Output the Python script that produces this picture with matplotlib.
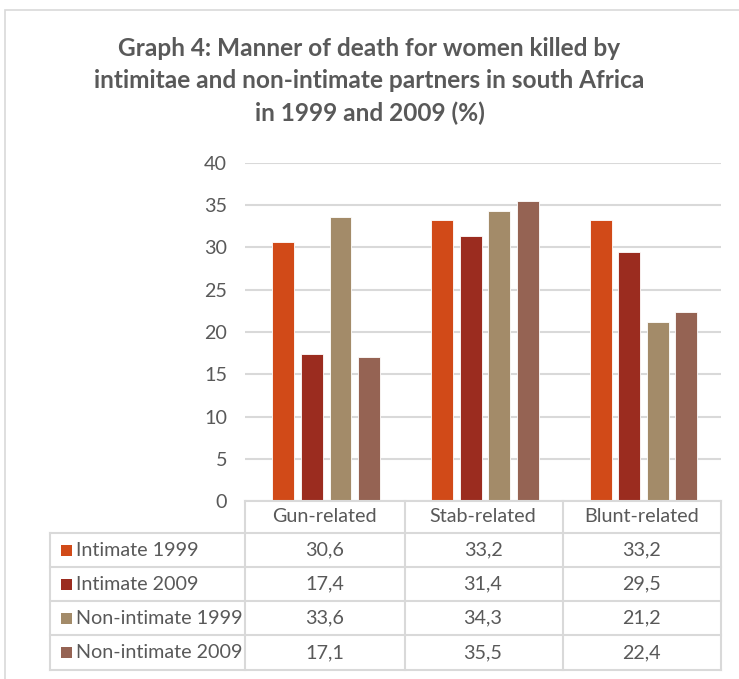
import matplotlib.pyplot as plt
from matplotlib.patches import Rectangle
from matplotlib.transforms import blended_transform_factory
import numpy as np

categories = ['Gun-related', 'Stab-related', 'Blunt-related']
series_names = ['Intimate 1999', 'Intimate 2009', 'Non-intimate 1999', 'Non-intimate 2009']
intimate_1999 = [30.6, 33.2, 33.2]
intimate_2009 = [17.4, 31.4, 29.5]
non_intimate_1999 = [33.6, 34.3, 21.2]
non_intimate_2009 = [17.1, 35.5, 22.4]
series_values = [intimate_1999, intimate_2009, non_intimate_1999, non_intimate_2009]
colors = ['#D14A18', '#9B2C1F', '#A38B69', '#956353']
yticks = [0, 5, 10, 15, 20, 25, 30, 35, 40]

W, H = 739, 679
TEXT = '#595959'
GRID = '#D9D9D9'
FS = 14.2
plt.rcParams['font.family'] = ['Lato', 'DejaVu Sans']

fig = plt.figure(figsize=(W / 100, H / 100), dpi=100)


def fx(px):
    return px / W


def fy(py):
    return 1 - py / H


# outer chart frame
fig.patches.append(Rectangle((fx(5), fy(700)), fx(760) - fx(5), fy(10) - fy(700),
                             transform=fig.transFigure, fill=False,
                             edgecolor='#D9D9D9', linewidth=1.2))

ax_left, ax_right, ax_top, ax_bottom = 245, 721, 163, 501
ax = fig.add_axes([fx(ax_left), fy(ax_bottom), fx(ax_right) - fx(ax_left), fy(ax_top) - fy(ax_bottom)])

x = np.arange(len(categories))
bar_w = 0.138
step = 0.18
for i, (vals, c) in enumerate(zip(series_values, colors)):
    ax.bar(x + (i - 1.5) * step + 0.012, vals, width=bar_w, color=c,
           edgecolor='white', linewidth=0.6, zorder=3, label=series_names[i])

ax.set_xlim(-0.5, 2.5)
ax.set_ylim(0, 40)
ax.set_yticks(yticks)
ax.set_yticklabels([str(t) for t in yticks], fontsize=FS, color=TEXT)
ax.set_xticks([])
ax.tick_params(axis='y', length=0, pad=13)
ax.grid(axis='y', color=GRID, linewidth=1.5, zorder=0)
for s in ax.spines.values():
    s.set_visible(False)

fig.text(0.5, fy(81), 'Graph 4: Manner of death for women killed by\n'
         'intimitae and non-intimate partners in south Africa\n'
         'in 1999 and 2009 (%)', ha='center', va='center',
         fontsize=17.6, fontweight='bold', color=TEXT, linespacing=1.47)

# data table under the axes
row_edges = [501, 533, 567, 601, 635, 670]
label_left = 50
col_edges = [ax_left, 405, 563, ax_right]
lw = 1.5
tf = fig.transFigure
# horizontal lines
fig.add_artist(plt.Line2D([fx(ax_left), fx(ax_right)], [fy(row_edges[0])] * 2, transform=tf, color=GRID, lw=lw))
for r in row_edges[1:]:
    fig.add_artist(plt.Line2D([fx(label_left), fx(ax_right)], [fy(r)] * 2, transform=tf, color=GRID, lw=lw))
# vertical lines
fig.add_artist(plt.Line2D([fx(label_left)] * 2, [fy(row_edges[1]), fy(row_edges[-1])], transform=tf, color=GRID, lw=lw))
for cpx in col_edges:
    fig.add_artist(plt.Line2D([fx(cpx)] * 2, [fy(row_edges[0]), fy(row_edges[-1])], transform=tf, color=GRID, lw=lw))

bt = blended_transform_factory(ax.transData, tf)
hdr_y = fy((row_edges[0] + row_edges[1]) / 2)
for xi, cat in zip(x, categories):
    ax.text(xi, hdr_y, cat, transform=bt, ha='center', va='center', fontsize=FS, color=TEXT)

for ri, (name, vals, c) in enumerate(zip(series_names, series_values, colors)):
    cy = fy((row_edges[ri + 1] + row_edges[ri + 2]) / 2)
    fig.patches.append(Rectangle((fx(61), cy - 5.5 / H), 11 / W, 11 / H, transform=tf,
                                 facecolor=c, edgecolor='none'))
    fig.text(fx(76), cy, name, ha='left', va='center', fontsize=FS, color=TEXT)
    for xi, v in zip(x, vals):
        ax.text(xi, cy, f'{v:.1f}'.replace('.', ','), transform=bt, ha='center', va='center',
                fontsize=FS, color=TEXT)

fig.savefig('out.png', dpi=100)
